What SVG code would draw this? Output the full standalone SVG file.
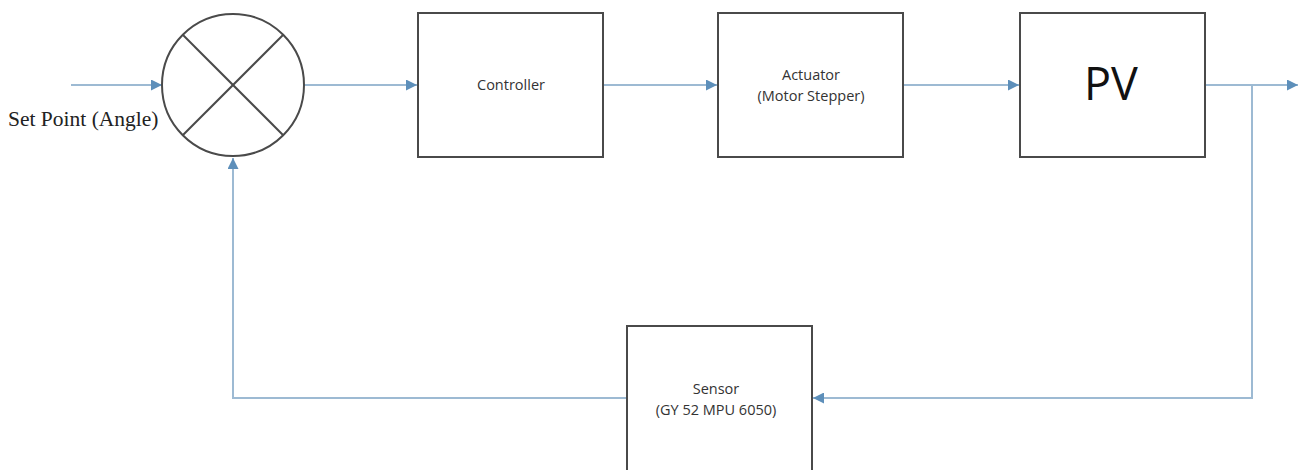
<svg xmlns="http://www.w3.org/2000/svg" width="1301" height="470" viewBox="0 0 1301 470">
  <style>
    .box { fill: #ffffff; stroke: #4a4a4a; stroke-width: 2; }
    .wire { fill: none; stroke: #9dbad3; stroke-width: 2; }
    .lbl { font-family: "Open Sans", "Liberation Sans", sans-serif; font-size: 14.5px; fill: #333333; text-anchor: middle; }
  </style>
  <defs>
    <marker id="arrow" viewBox="0 0 10 10" refX="10" refY="5" markerWidth="11" markerHeight="11" markerUnits="userSpaceOnUse" orient="auto">
      <path d="M0,0 L10,5 L0,10 z" fill="#5d8fba"/>
    </marker>
  </defs>
  <rect width="1301" height="470" fill="#ffffff"/>

  <!-- connectors -->
  <g id="connectors">
    <path class="wire" d="M71,85 H162" marker-end="url(#arrow)"/>
    <path class="wire" d="M304,85 H417" marker-end="url(#arrow)"/>
    <path class="wire" d="M603,85 H717" marker-end="url(#arrow)"/>
    <path class="wire" d="M903,85 H1019" marker-end="url(#arrow)"/>
    <path class="wire" d="M1205,85 H1298" marker-end="url(#arrow)"/>
    <path class="wire" d="M1252,85 V398 H813" marker-end="url(#arrow)"/>
    <path class="wire" d="M627,398 H233 V158" marker-end="url(#arrow)"/>
  </g>

  <!-- summing junction -->
  <g id="summer">
    <circle cx="233" cy="85" r="71" fill="#ffffff" stroke="#4a4a4a" stroke-width="2"/>
    <line x1="183" y1="35" x2="283" y2="135" stroke="#4a4a4a" stroke-width="2"/>
    <line x1="283" y1="35" x2="183" y2="135" stroke="#4a4a4a" stroke-width="2"/>
    <text x="8" y="126" font-family="Liberation Serif, serif" font-size="21.5" fill="#222222">Set Point (Angle)</text>
  </g>

  <g id="controller">
    <rect class="box" x="418" y="13" width="185" height="144"/>
    <text class="lbl" x="511" y="90">Controller</text>
  </g>

  <g id="actuator">
    <rect class="box" x="718" y="13" width="185" height="144"/>
    <text class="lbl" x="811" y="80">Actuator</text>
    <text class="lbl" x="811" y="101">(Motor Stepper)</text>
  </g>

  <g id="pv">
    <rect class="box" x="1020" y="13" width="185" height="144"/>
    <text x="1111" y="100" font-family="Open Sans, Liberation Sans, sans-serif" font-size="45" fill="#111111" text-anchor="middle">PV</text>
  </g>

  <g id="sensor">
    <rect class="box" x="627" y="326" width="185" height="150"/>
    <text class="lbl" x="716" y="394">Sensor</text>
    <text class="lbl" x="716" y="415">(GY 52 MPU 6050)</text>
  </g>
</svg>
